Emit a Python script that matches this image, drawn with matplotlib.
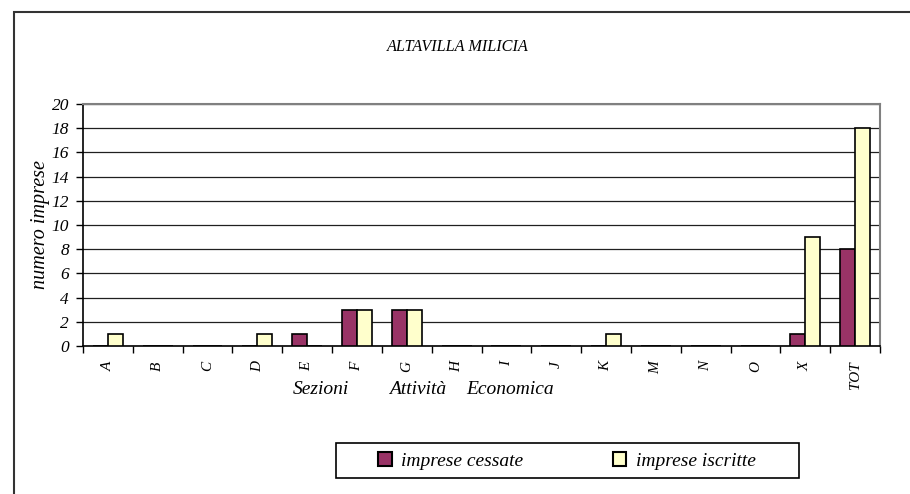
import numpy as np
import matplotlib
matplotlib.use('Agg')
import matplotlib.pyplot as plt
from matplotlib.patches import Rectangle, Patch

sezioni = ['A', 'B', 'C', 'D', 'E', 'F', 'G', 'H', 'I', 'J', 'K', 'M', 'N', 'O', 'X', 'TOT']
cessate = [0, 0, 0, 0, 1, 3, 3, 0, 0, 0, 0, 0, 0, 0, 1, 8]
iscritte = [1, 0, 0, 1, 0, 3, 3, 0, 0, 0, 1, 0, 0, 0, 9, 18]
y_ticks = [0, 2, 4, 6, 8, 10, 12, 14, 16, 18, 20]
xlabel_words = ['Sezioni', 'Attività', 'Economica']

plt.rcParams['font.family'] = ['Liberation Serif', 'DejaVu Serif']
plt.rcParams['font.style'] = 'italic'

W, H = 910, 494
fig = plt.figure(figsize=(W/100, H/100), dpi=100)
ax = fig.add_axes([83/W, 1-346/H, (880-83)/W, (346-104)/H])

x = np.arange(len(sezioni))
w = 0.3
ax.bar(x + 0.5 - w, cessate, w, align='edge', color='#993366', edgecolor='black', linewidth=1.2, zorder=3)
ax.bar(x + 0.5, iscritte, w, align='edge', color='#FFFFCC', edgecolor='black', linewidth=1.2, zorder=3)

ax.set_xlim(0, len(sezioni))
ax.set_ylim(0, 20)
ax.set_yticks(y_ticks)
ax.set_yticklabels([str(v) for v in y_ticks], fontsize=12.5)
ax.set_xticks(list(x) + [len(sezioni)])
ax.set_xticklabels([])
ax.set_xticks(x + 0.5, minor=True)
ax.set_xticklabels(sezioni, minor=True, rotation=90, fontsize=11)
ax.tick_params(axis='x', which='minor', length=0, pad=11)
ax.tick_params(axis='x', which='major', direction='out', length=5, width=1)
ax.tick_params(axis='y', direction='out', length=5, width=1, pad=5)

ax.yaxis.grid(True, color='#202020', linewidth=0.9, zorder=0)
ax.set_axisbelow(True)
for s in ['top', 'right']:
    ax.spines[s].set_color('#808080')
    ax.spines[s].set_linewidth(1.5)
for s in ['left', 'bottom']:
    ax.spines[s].set_color('black')
    ax.spines[s].set_linewidth(1.2)

ax.set_ylabel('numero imprese', fontsize=14.5, va='center')
ax.yaxis.set_label_coords((40-83)/797, 0.5)
for word, xp in zip(xlabel_words, [293, 389, 466]):
    fig.text(xp/W, 1-389/H, word, ha='left', va='center', fontsize=14)
fig.text(458/W, 1-47/H, 'ALTAVILLA MILICIA', ha='center', va='center', fontsize=11.7)

# outer frame
fig.patches.append(Rectangle((14/W, -0.1), 1.1, 1 - 12/H + 0.1, transform=fig.transFigure,
                             fill=False, edgecolor='#333333', linewidth=1.5))

# legend box
fig.patches.append(Rectangle((336/W, 1-478/H), (799-336)/W, 35/H, transform=fig.transFigure,
                             fill=False, edgecolor='black', linewidth=1.2))
handles = [Patch(facecolor='#993366', edgecolor='black', linewidth=1.5, label='imprese cessate'),
           Patch(facecolor='#FFFFCC', edgecolor='black', linewidth=1.5, label='imprese iscritte')]
fig.legend(handles=handles, loc='center', bbox_to_anchor=(567/W, 1-461/H), ncol=2, frameon=False,
           fontsize=14, handlelength=0.7, handleheight=0.7, handletextpad=0.5, columnspacing=4.6)

fig.savefig('out.png', dpi=100)
